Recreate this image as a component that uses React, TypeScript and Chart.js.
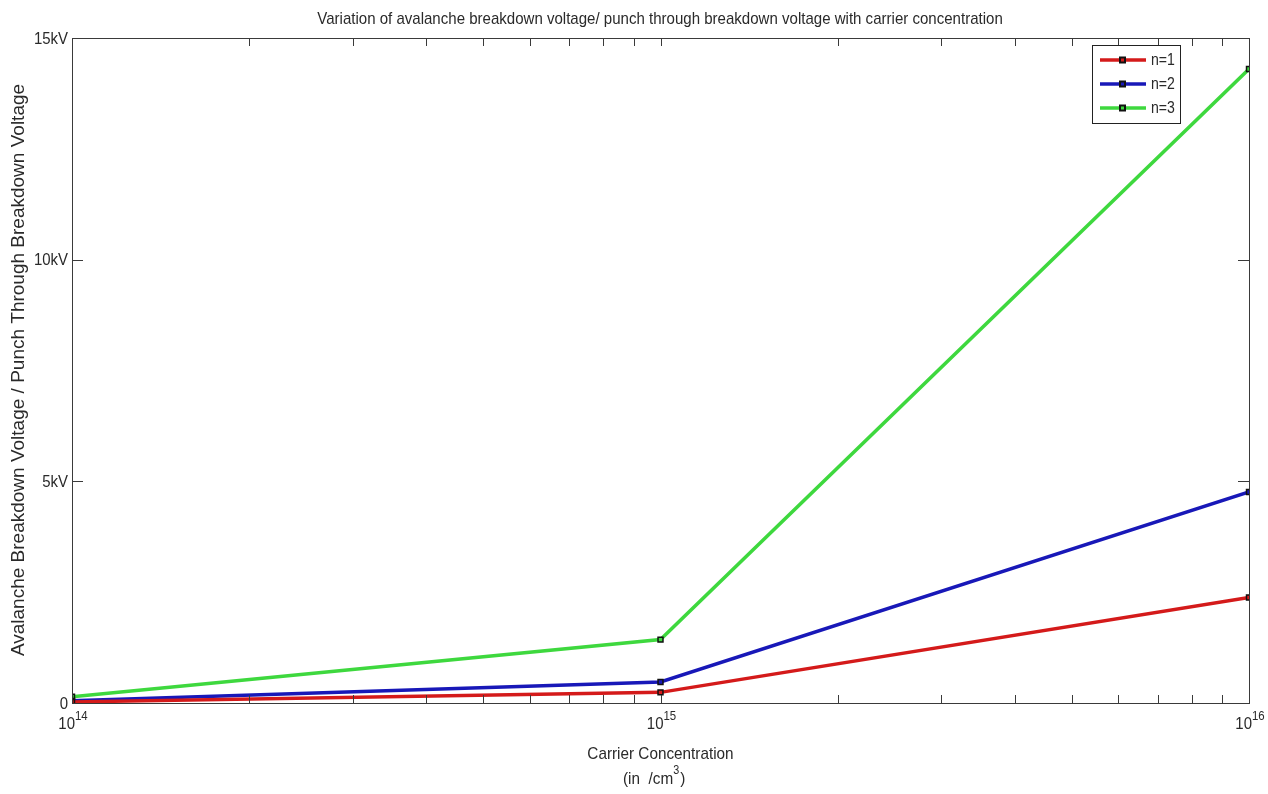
import React, { useEffect, useRef } from "react";
import { Chart, registerables } from "chart.js";

Chart.register(...registerables);

// Carrier concentration (per cm^3) on a log axis
const concentrations = [1e14, 1e15, 1e16];
const xExponents = [14, 15, 16];

// Breakdown voltage in volts for each n
const seriesLabels = ["n=1", "n=2", "n=3"];
const voltsN1 = [24, 240, 2380];
const voltsN2 = [48, 475, 4760];
const voltsN3 = [143, 1430, 14300];
const seriesColors = ["#d41a1a", "#1818b8", "#3ed83e"];

const yTickValues = [0, 5000, 10000, 15000];
const yTickLabels = ["0", "5kV", "10kV", "15kV"];

const titleText =
  "Variation of avalanche breakdown voltage/ punch through breakdown voltage with carrier concentration";
const yTitle = "Avalanche Breakdown Voltage / Punch Through Breakdown Voltage";
const xTitle = "Carrier Concentration";

const FONT = '"Liberation Sans", Arial, sans-serif';
const TEXT = "#2a2a2a";
const FRAME = "#3a3a3a";

// text with optional horizontal squeeze (narrow MATLAB-style glyphs)
function drawText(
  ctx: CanvasRenderingContext2D,
  text: string,
  x: number,
  y: number,
  size: number,
  align: CanvasTextAlign,
  sx = 1
) {
  ctx.save();
  ctx.font = `${size}px ${FONT}`;
  ctx.textAlign = align;
  ctx.textBaseline = "middle";
  ctx.translate(x, y);
  ctx.scale(sx, 1);
  ctx.fillText(text, 0, 0);
  ctx.restore();
}

function textWidth(ctx: CanvasRenderingContext2D, text: string, size: number, sx = 1) {
  ctx.save();
  ctx.font = `${size}px ${FONT}`;
  const w = ctx.measureText(text).width * sx;
  ctx.restore();
  return w;
}

const matlabAxes = {
  id: "matlabAxes",
  beforeDraw(chart: any) {
    const { ctx } = chart;
    ctx.save();
    ctx.fillStyle = "#ffffff";
    ctx.fillRect(0, 0, chart.width, chart.height);
    ctx.restore();
  },
  afterDatasetsDraw(chart: any) {
    const { ctx, chartArea } = chart;
    const { left, right, top, bottom } = chartArea;
    const xs = chart.scales.x;
    const ys = chart.scales.y;
    ctx.save();

    // frame
    ctx.strokeStyle = FRAME;
    ctx.lineWidth = 1;
    ctx.strokeRect(Math.round(left) + 0.5, Math.round(top) + 0.5, Math.round(right - left), Math.round(bottom - top));

    // x ticks (major and minor, drawn inward on bottom and top)
    for (let e = xExponents[0]; e < xExponents[xExponents.length - 1]; e++) {
      for (let k = 1; k <= 9; k++) {
        const px = Math.round(xs.getPixelForValue(k * Math.pow(10, e))) + 0.5;
        const len = 8;
        ctx.beginPath();
        ctx.moveTo(px, bottom);
        ctx.lineTo(px, bottom - len);
        ctx.moveTo(px, top);
        ctx.lineTo(px, top + len);
        ctx.stroke();
      }
    }

    // y ticks inward on left and right
    yTickValues.forEach((v) => {
      const py = Math.round(ys.getPixelForValue(v)) + 0.5;
      ctx.beginPath();
      ctx.moveTo(left, py);
      ctx.lineTo(left + 11, py);
      ctx.moveTo(right, py);
      ctx.lineTo(right - 11, py);
      ctx.stroke();
    });

    ctx.fillStyle = TEXT;
    // y tick labels
    yTickValues.forEach((v, i) => {
      drawText(ctx, yTickLabels[i], left - 4, ys.getPixelForValue(v) + 1, 17, "right", 0.88);
    });

    // x tick labels: 10 with superscript exponent
    xExponents.forEach((e) => {
      const px = xs.getPixelForValue(Math.pow(10, e));
      drawText(ctx, "10", px + 3, bottom + 21, 17, "right", 0.88);
      drawText(ctx, String(e), px + 3, bottom + 13, 13, "left", 0.88);
    });

    // x axis title
    const cx = (left + right) / 2;
    drawText(ctx, xTitle, cx, 754, 17, "center", 0.9);
    const unitA = "(in  /cm";
    const wA = textWidth(ctx, unitA, 17, 0.9);
    const startX = 623;
    drawText(ctx, unitA, startX, 779, 17, "left", 0.9);
    drawText(ctx, "3", startX + wA, 771, 12, "left", 0.9);
    const w3 = textWidth(ctx, "3", 12, 0.9);
    drawText(ctx, ")", startX + wA + w3 + 1, 779, 17, "left", 0.9);

    // y axis title
    ctx.save();
    ctx.translate(19, 370);
    ctx.rotate(-Math.PI / 2);
    ctx.font = `19px ${FONT}`;
    ctx.textAlign = "center";
    ctx.textBaseline = "middle";
    ctx.fillText(yTitle, 0, 0);
    ctx.restore();

    // main title
    drawText(ctx, titleText, 660, 19, 17, "center", 0.885);

    // legend
    const lx = 1092, ly = 45, lw = 88, lh = 78;
    ctx.fillStyle = "#ffffff";
    ctx.fillRect(lx, ly, lw, lh);
    ctx.strokeStyle = "#222222";
    ctx.lineWidth = 1;
    ctx.strokeRect(lx + 0.5, ly + 0.5, lw, lh);
    seriesLabels.forEach((label, i) => {
      const yy = 60 + i * 24;
      ctx.strokeStyle = seriesColors[i];
      ctx.lineWidth = 3.5;
      ctx.beginPath();
      ctx.moveTo(1100, yy);
      ctx.lineTo(1146, yy);
      ctx.stroke();
      ctx.fillStyle = "#111111";
      ctx.fillRect(1119, yy - 3.5, 7, 7);
      ctx.fillStyle = seriesColors[i];
      ctx.fillRect(1121, yy - 1.5, 3, 3);
      ctx.fillStyle = TEXT;
      drawText(ctx, label, 1151, yy + 1, 16, "left", 0.88);
    });

    ctx.restore();
  },
};

export default function App() {
  const canvasRef = useRef<HTMLCanvasElement | null>(null);

  useEffect(() => {
    document.body.style.margin = "0";
    const canvas = canvasRef.current;
    if (!canvas) return;
    const allSeries = [voltsN1, voltsN2, voltsN3];
    const chart = new Chart(canvas, {
      type: "line",
      data: {
        datasets: allSeries.map((vals, i) => ({
          label: seriesLabels[i],
          data: concentrations.map((c, j) => ({ x: c, y: vals[j] })),
          borderColor: seriesColors[i],
          borderWidth: 3.5,
          pointStyle: "rect",
          pointRadius: 3.5,
          pointBorderColor: "#111111",
          pointBorderWidth: 1.5,
          pointBackgroundColor: seriesColors[i],
          tension: 0,
        })),
      },
      options: {
        animation: false,
        responsive: false,
        devicePixelRatio: 1,
        layout: { padding: { left: 72, right: 19, top: 38, bottom: 91 } },
        plugins: {
          legend: { display: false },
          title: { display: false },
          tooltip: { enabled: false },
        },
        scales: {
          x: { type: "logarithmic", min: 1e14, max: 1e16, display: false },
          y: { type: "linear", min: 0, max: 15000, display: false },
        },
      },
      plugins: [matlabAxes],
    });
    return () => chart.destroy();
  }, []);

  return (
    <div style={{ position: "fixed", left: 0, top: 0, width: 1268, height: 794 }}>
      <canvas ref={canvasRef} width={1268} height={794} style={{ width: 1268, height: 794 }} />
    </div>
  );
}
